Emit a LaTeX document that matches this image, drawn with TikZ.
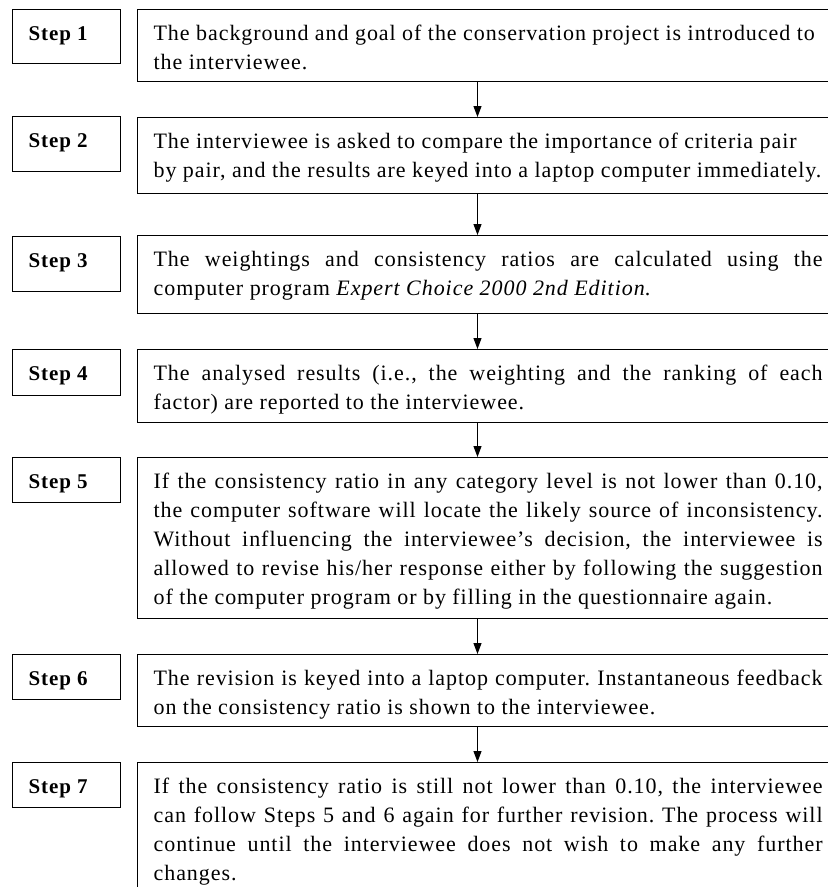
\documentclass[tikz,border=0pt]{standalone}
\usepackage{fontspec}
\setmainfont[LetterSpace=4.3]{Liberation Serif}
\usetikzlibrary{arrows.meta}
\frenchspacing
\newlength\tw \setlength\tw{669pt}
\newcommand\jline[1]{\makebox[\tw][s]{#1}\\}
\newcommand\nline[1]{\makebox[\tw][l]{#1}\\}
\newcommand\lline[1]{\makebox[\tw][l]{#1}}
\tikzset{
  tbox/.style={draw, line width=1.2pt, anchor=north west, inner xsep=16pt, inner ysep=0pt,
    text width=\tw, align=justify, text height=30.5pt, font=\fontsize{22}{29}\selectfont},
  sbox/.style={draw, line width=1.2pt, anchor=north west, inner xsep=16pt, inner ysep=0pt,
    text width=76pt, align=justify, text height=31pt, font=\fontsize{21}{29}\selectfont\bfseries},
  arr/.style={line width=1.1pt, -{Triangle[length=11pt,width=8pt]}}
}
\begin{document}
\begin{tikzpicture}[x=1pt,y=-1pt]
\clip (0,0) rectangle (828,887);
\fill[white] (0,0) rectangle (828,887);
% step labels
\node[sbox, text depth=23pt] (s1) at (12,9) {Step 1};
\node[sbox, text depth=24pt] (s2) at (12,116) {Step 2};
\node[sbox, text depth=24pt] (s3) at (12,236) {Step 3};
\node[sbox, text depth=15pt] (s4) at (12,349) {Step 4};
\node[sbox, text depth=14pt] (s5) at (12,457) {Step 5};
\node[sbox, text depth=14pt] (s6) at (12,654) {Step 6};
\node[sbox, text depth=14pt] (s7) at (12,762) {Step 7};
% text boxes
\node[tbox, text depth=41.5pt] (t1) at (137,9) {\nline{The background and goal of the conservation project is introduced to}\lline{the interviewee.}};
\node[tbox, text depth=45.5pt] (t2) at (137,117) {\nline{The interviewee is asked to compare the importance of criteria pair}\lline{by pair, and the results are keyed into a laptop computer immediately.}};
\node[tbox, text depth=47.5pt] (t3) at (137,235) {\jline{The weightings and consistency ratios are calculated using the}\lline{computer program \textit{Expert Choice 2000 2nd Edition}.}};
\node[tbox, text depth=42.5pt] (t4) at (137,349) {\jline{The analysed results (i.e., the weighting and the ranking of each}\lline{factor) are reported to the interviewee.}};
\node[tbox, text depth=130.5pt] (t5) at (137,457) {\jline{If the consistency ratio in any category level is not lower than 0.10,}\jline{the computer software will locate the likely source of inconsistency.}\jline{Without influencing the interviewee’s decision, the interviewee is}\jline{allowed to revise his/her response either by following the suggestion}\lline{of the computer program or by filling in the questionnaire again.}};
\node[tbox, text depth=41.5pt] (t6) at (137,654) {\jline{The revision is keyed into a laptop computer. Instantaneous feedback}\lline{on the consistency ratio is shown to the interviewee.}};
\node[tbox, text depth=160pt] (t7) at (137,762) {\jline{If the consistency ratio is still not lower than 0.10, the interviewee}\jline{can follow Steps 5 and 6 again for further revision. The process will}\jline{continue until the interviewee does not wish to make any further}\lline{changes.}};
% arrows
\coordinate (ax) at (477.5,0);
\draw[arr] (t1.south -| ax) -- (t2.north -| ax);
\draw[arr] (t2.south -| ax) -- (t3.north -| ax);
\draw[arr] (t3.south -| ax) -- (t4.north -| ax);
\draw[arr] (t4.south -| ax) -- (t5.north -| ax);
\draw[arr] (t5.south -| ax) -- (t6.north -| ax);
\draw[arr] (t6.south -| ax) -- (t7.north -| ax);
\end{tikzpicture}
\end{document}
